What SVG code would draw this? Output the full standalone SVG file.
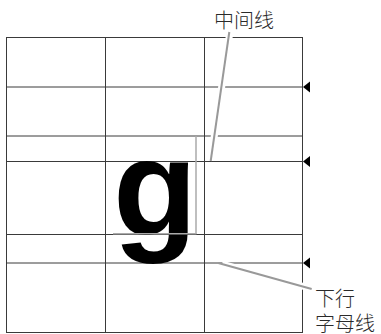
<svg xmlns="http://www.w3.org/2000/svg" width="381" height="334" viewBox="0 0 381 334">
  <style>
    .grid { stroke: #3a3a3a; stroke-width: 1; fill: none; }
    .box { stroke: #aaaaaa; stroke-width: 1.5; fill: none; }
    .halo { stroke: #ffffff; stroke-width: 7; fill: none; }
    .lead { stroke: #999999; stroke-width: 2; fill: none; }
    .lbl { font-family: "Noto Sans CJK SC", "Noto Sans", sans-serif; font-size: 20px; font-weight: 300; fill: #2a2a2a; }
    .glyph { font-family: "Liberation Sans", Arial, sans-serif; font-weight: bold; font-size: 138px; fill: #000; }
  </style>
  <rect width="381" height="334" fill="#fff"/>
  <g id="grid">
    <rect class="grid" x="6.5" y="37.5" width="296" height="295"/>
    <line class="grid" x1="105.5" y1="37.5" x2="105.5" y2="332.5"/>
    <line class="grid" x1="204.5" y1="37.5" x2="204.5" y2="332.5"/>
    <line class="grid" x1="6.5" y1="87" x2="302.5" y2="87"/>
    <line class="grid" x1="6.5" y1="136" x2="302.5" y2="136"/>
    <line class="grid" x1="6.5" y1="161.5" x2="302.5" y2="161.5"/>
    <line class="grid" x1="6.5" y1="234.5" x2="302.5" y2="234.5"/>
    <line class="grid" x1="6.5" y1="263" x2="302.5" y2="263"/>
  </g>
  <g id="letter-g">
    <text class="glyph" x="113" y="235">g</text>
    <line class="box" x1="196" y1="136" x2="196" y2="234"/>
    <line class="box" x1="113" y1="233.8" x2="196.5" y2="233.8"/>
  </g>
  <g id="markers">
    <polygon points="303,87 310,81.5 310,92.5" fill="#000"/>
    <polygon points="303,161.5 310,156 310,167" fill="#000"/>
    <polygon points="303,263 310,257.5 310,268.5" fill="#000"/>
  </g>
  <g id="connectors">
    <line class="halo" x1="229.3" y1="36" x2="211" y2="158"/>
    <line class="lead" x1="229.3" y1="32" x2="210.7" y2="161"/>
    <line class="halo" x1="222" y1="264" x2="311" y2="288.5"/>
    <line class="lead" x1="218.3" y1="263" x2="311.7" y2="289"/>
  </g>
  <g id="label-midline">
    <text class="lbl" x="214" y="27.5">中间线</text>
  </g>
  <g id="label-descender">
    <text class="lbl" x="315" y="306">下行</text>
    <text class="lbl" x="315" y="331">字母线</text>
  </g>
</svg>
